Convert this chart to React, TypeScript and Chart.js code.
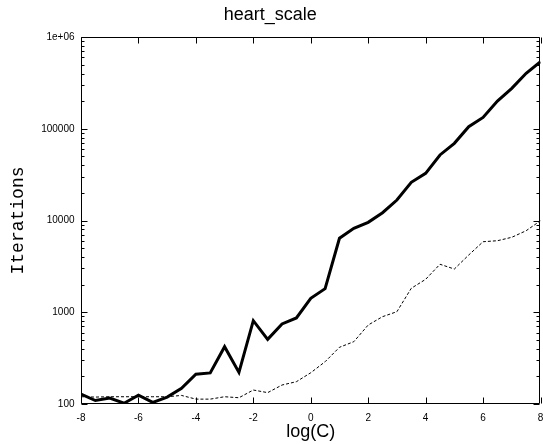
import React, { useEffect, useRef } from 'react';
import { Chart, registerables } from 'chart.js';

Chart.register(...registerables);

const logC = [-8, -7.5, -7, -6.5, -6, -5.5, -5, -4.5, -4, -3.5, -3, -2.5, -2, -1.5, -1, -0.5, 0, 0.5, 1, 1.5, 2, 2.5, 3, 3.5, 4, 4.5, 5, 5.5, 6, 6.5, 7, 7.5, 8];
const solidIterations = [128, 109, 116, 102, 125, 104, 119, 148, 211, 218, 421, 221, 809, 507, 745, 866, 1419, 1807, 6400, 8220, 9550, 12160, 16700, 26050, 32660, 51800, 69400, 105300, 133000, 200600, 276000, 402000, 538000];
const dashedIterations = [120, 119, 120, 120, 120, 120, 120, 124, 113, 113, 120, 117, 142, 133, 161, 175, 219, 289, 415, 478, 726, 895, 1014, 1824, 2284, 3335, 2958, 4205, 5870, 6020, 6560, 7740, 9950];
const xTicks = [-8, -6, -4, -2, 0, 2, 4, 6, 8];
const yTicks = [100, 1000, 10000, 100000, 1000000];
const yTickLabels = ['100', '1000', '10000', '100000', '1e+06'];
const minorMultipliers = [2, 3, 4, 5, 6, 7, 8, 9];

const framePlugin = {
  id: 'frame',
  afterDatasetsDraw(chart: any) {
    const { ctx, chartArea, scales } = chart;
    const xs = scales.x;
    const ys = scales.y;
    const L = Math.floor(chartArea.left) + 0.5;
    const R = Math.floor(chartArea.right) - 0.5;
    const T = Math.floor(chartArea.top) + 0.5;
    const B = Math.floor(chartArea.bottom) - 0.5;
    ctx.save();
    ctx.strokeStyle = '#000';
    ctx.lineWidth = 1;
    ctx.beginPath();
    ctx.rect(L, T, R - L, B - T);
    ctx.stroke();
    ctx.beginPath();
    for (const v of xTicks) {
      const px = Math.round(xs.getPixelForValue(v)) + 0.5;
      ctx.moveTo(px, B);
      ctx.lineTo(px, B - 6);
      ctx.moveTo(px, T);
      ctx.lineTo(px, T + 6);
    }
    for (const v of yTicks) {
      const py = Math.round(ys.getPixelForValue(v)) + 0.5;
      ctx.moveTo(L, py);
      ctx.lineTo(L + 6, py);
      ctx.moveTo(R, py);
      ctx.lineTo(R - 6, py);
    }
    for (let i = 0; i < yTicks.length - 1; i++) {
      for (const m of minorMultipliers) {
        const py = Math.round(ys.getPixelForValue(yTicks[i] * m)) + 0.5;
        ctx.moveTo(L, py);
        ctx.lineTo(L + 3, py);
        ctx.moveTo(R, py);
        ctx.lineTo(R - 3, py);
      }
    }
    ctx.stroke();
    ctx.restore();
  },
};

export default function App() {
  const canvasRef = useRef<HTMLCanvasElement | null>(null);

  useEffect(() => {
    document.body.style.margin = '0';
    const canvas = canvasRef.current;
    if (!canvas) return;
    const chart = new Chart(canvas, {
      type: 'line',
      data: {
        datasets: [
          {
            label: 'solid',
            data: logC.map((x, i) => ({ x, y: solidIterations[i] })),
            borderColor: '#000',
            backgroundColor: '#000',
            borderWidth: 3,
            pointRadius: 0,
            tension: 0,
            fill: false,
          },
          {
            label: 'dashed',
            data: logC.map((x, i) => ({ x, y: dashedIterations[i] })),
            borderColor: '#000',
            backgroundColor: '#000',
            borderWidth: 1,
            borderDash: [3, 2],
            pointRadius: 0,
            tension: 0,
            fill: false,
          },
        ],
      },
      options: {
        responsive: false,
        animation: false,
        devicePixelRatio: 1,
        layout: { padding: { left: 0, right: 2.5, top: 0, bottom: 0 } },
        plugins: {
          legend: { display: false },
          tooltip: { enabled: false },
          title: {
            display: true,
            text: 'heart_scale',
            color: '#000',
            font: { family: 'Liberation Sans', size: 18, weight: 'normal' },
            padding: { top: 4.6, bottom: 10.8 },
          },
        },
        scales: {
          x: {
            type: 'linear',
            min: -8,
            max: 8,
            afterBuildTicks: (s: any) => {
              s.ticks = xTicks.map((v) => ({ value: v }));
            },
            afterFit: (s: any) => {
              s.height = 40;
              s.paddingLeft = 0;
              s.paddingRight = 0;
            },
            grid: { display: false, drawTicks: false },
            border: { display: false },
            ticks: {
              color: '#000',
              font: { family: 'Liberation Sans', size: 10 },
              padding: 8,
              maxRotation: 0,
              autoSkip: false,
              callback: (v: any) => String(v),
            },
            title: {
              display: true,
              text: 'log(C)',
              color: '#000',
              font: { family: 'Liberation Sans', size: 18 },
              padding: { top: 0, bottom: 1 },
            },
          },
          y: {
            type: 'logarithmic',
            min: 100,
            max: 1000000,
            afterBuildTicks: (s: any) => {
              s.ticks = yTicks.map((v) => ({ value: v }));
            },
            afterFit: (s: any) => {
              s.width = 81;
              s.paddingTop = 0;
              s.paddingBottom = 0;
            },
            grid: { display: false, drawTicks: false },
            border: { display: false },
            ticks: {
              color: '#000',
              font: { family: 'Liberation Sans', size: 10 },
              padding: 6.5,
              autoSkip: false,
              callback: (v: any) => {
                const i = yTicks.indexOf(Number(v));
                return i >= 0 ? yTickLabels[i] : '';
              },
            },
            title: {
              display: true,
              text: 'Iterations',
              color: '#000',
              font: { family: 'Liberation Mono', size: 18 },
              padding: { top: 7, bottom: 0 },
            },
          },
        },
      },
      plugins: [framePlugin],
    });
    return () => chart.destroy();
  }, []);

  return (
    <div style={{ width: 543, height: 444 }}>
      <canvas ref={canvasRef} width={543} height={444} />
    </div>
  );
}
